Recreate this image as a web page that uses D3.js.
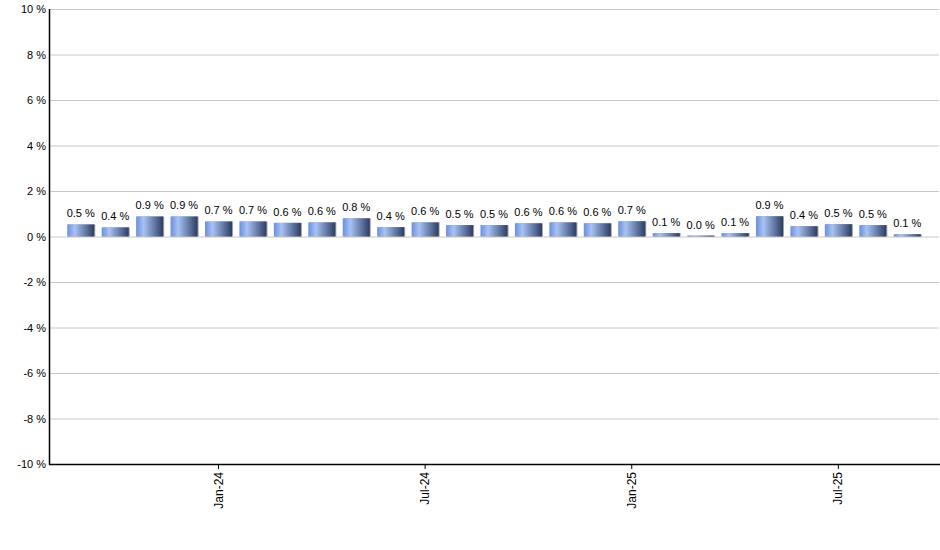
<!DOCTYPE html>
<html>
<head>
<meta charset="utf-8">
<script src="https://cdn.jsdelivr.net/npm/d3@7/dist/d3.min.js"></script>
<style>
  body { margin: 0; background: #fff; }
  text { font-family: "Liberation Sans", Arial, sans-serif; }
</style>
</head>
<body>
<div id="chart"></div>
<script>
const months = ["Sep-23","Oct-23","Nov-23","Dec-23","Jan-24","Feb-24","Mar-24","Apr-24","May-24",
  "Jun-24","Jul-24","Aug-24","Sep-24","Oct-24","Nov-24","Dec-24","Jan-25","Feb-25","Mar-25",
  "Apr-25","May-25","Jun-25","Jul-25","Aug-25","Sep-25"];
const values = [0.53,0.40,0.88,0.88,0.66,0.66,0.60,0.62,0.80,0.41,0.62,0.50,0.50,0.58,0.62,0.58,
  0.67,0.15,0.04,0.15,0.89,0.45,0.54,0.50,0.10];
const labels = ["0.5","0.4","0.9","0.9","0.7","0.7","0.6","0.6","0.8","0.4","0.6","0.5","0.5",
  "0.6","0.6","0.6","0.7","0.1","0.0","0.1","0.9","0.4","0.5","0.5","0.1"];
const xTicks = ["Jan-24","Jul-24","Jan-25","Jul-25"];
const yTicks = [-10,-8,-6,-4,-2,0,2,4,6,8,10];

const w = 940, h = 550;
const m = {left: 49, right: 1, top: 9, bottom: 86};

const svg = d3.select("#chart").append("svg")
  .attr("width", w).attr("height", h);

const defs = svg.append("defs");
const grad = defs.append("linearGradient").attr("id", "barGrad")
  .attr("x1", "0%").attr("x2", "100%").attr("y1", "0%").attr("y2", "0%");
grad.append("stop").attr("offset", "0%").attr("stop-color", "#6b8fdd");
grad.append("stop").attr("offset", "28%").attr("stop-color", "#a8c2f4");
grad.append("stop").attr("offset", "100%").attr("stop-color", "#2c3d64");

const x = d3.scaleBand().domain(months)
  .range([m.left, w - m.right])
  .paddingInner(0.215).paddingOuter(0.53);
const y = d3.scaleLinear().domain([-10, 10]).range([h - m.bottom, m.top]);

// grid
svg.append("g").selectAll("line").data(yTicks).enter().append("line")
  .attr("x1", m.left).attr("x2", w - m.right)
  .attr("y1", d => y(d) + 0.5).attr("y2", d => y(d) + 0.5)
  .attr("stroke", "#c8c8c8").attr("stroke-width", 1);

// y labels
svg.append("g").selectAll("text").data(yTicks).enter().append("text")
  .attr("x", m.left - 3).attr("y", d => y(d) + 4)
  .attr("text-anchor", "end").attr("font-size", "11px").attr("fill", "#000")
  .text(d => d + " %");

// bars shadow + bars
const bars = svg.append("g");
bars.selectAll("rect.sh").data(values).enter().append("rect")
  .attr("class", "sh")
  .attr("x", (d, i) => x(months[i]) + 1)
  .attr("y", d => y(d))
  .attr("width", x.bandwidth())
  .attr("height", d => y(0) - y(d))
  .attr("fill", "#a0a0a0");
bars.selectAll("rect.bar").data(values).enter().append("rect")
  .attr("class", "bar")
  .attr("x", (d, i) => x(months[i]))
  .attr("y", d => y(d))
  .attr("width", x.bandwidth())
  .attr("height", d => y(0) - y(d))
  .attr("fill", "url(#barGrad)");

// value labels
svg.append("g").selectAll("text").data(values).enter().append("text")
  .attr("x", (d, i) => x(months[i]) + x.bandwidth() / 2)
  .attr("y", d => y(d) - 7)
  .attr("text-anchor", "middle").attr("font-size", "11px").attr("fill", "#000")
  .text((d, i) => labels[i] + " %");

// axes lines
svg.append("line").attr("x1", m.left + 0.5).attr("x2", m.left + 0.5)
  .attr("y1", m.top).attr("y2", h - m.bottom + 0.5)
  .attr("stroke", "#000").attr("stroke-width", 1.5);
svg.append("line").attr("x1", m.left).attr("x2", w)
  .attr("y1", h - m.bottom + 0.5).attr("y2", h - m.bottom + 0.5)
  .attr("stroke", "#000").attr("stroke-width", 1.5);

// x ticks
const xt = svg.append("g").selectAll("g").data(xTicks).enter().append("g")
  .attr("transform", d => "translate(" + (x(d) + x.bandwidth() / 2) + "," + (h - m.bottom) + ")");
xt.append("line").attr("y1", 0).attr("y2", 5).attr("stroke", "#000");
xt.append("text")
  .attr("transform", "translate(4,8) rotate(-90)")
  .attr("text-anchor", "end").attr("font-size", "12px").attr("fill", "#000")
  .text(d => d);
</script>
</body>
</html>
